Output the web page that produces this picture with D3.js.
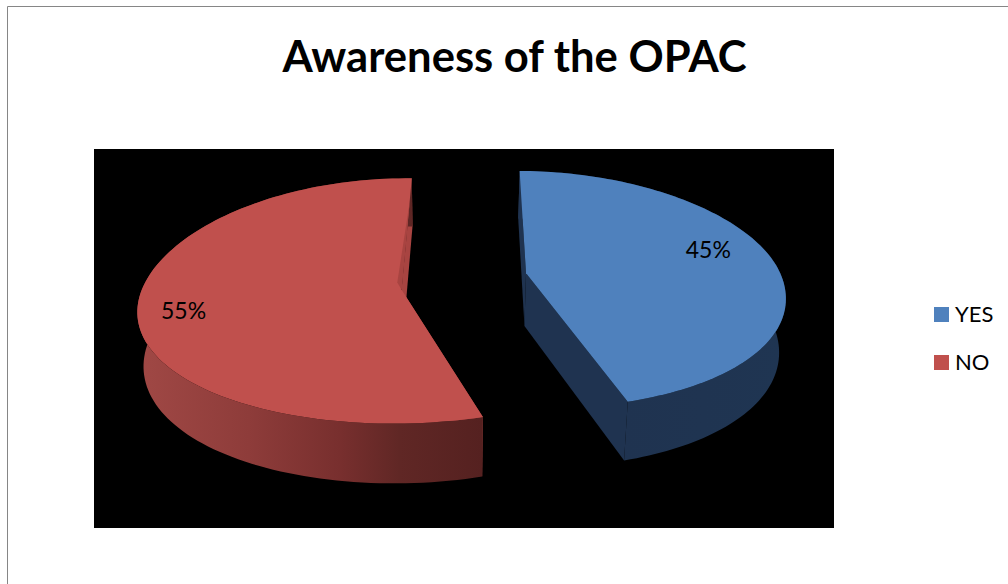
<!DOCTYPE html>
<html><head><meta charset="utf-8">
<script src="https://cdnjs.cloudflare.com/ajax/libs/d3/7.8.5/d3.min.js"></script>
<style>html,body{margin:0;padding:0;background:#fff}svg{display:block}text{font-family:Lato,"Open Sans",sans-serif;fill:#000}</style>
</head><body><svg id="c" width="1008" height="584"></svg>
<script>
const title = "Awareness of the OPAC";
const categories = ["YES", "NO"];
const values = [45, 55];
const topColors = ["#4f81bd", "#c0504d"];

const svg = d3.select("#c");
const R = Math.PI / 180;
// camera
const vx = 447, cy = 281.5, rx = 257, ry = 122, k = 0.11, kx = 0.16, depth = 53, zs = 0.98;
const worldShift = 0.068, explode = 0.252, explodeTurn = -7.5 * R, spin = 1.0 * R;
const backScale = [0.94, 1], frontScale = [1, 0.965];
const project = (u, v) => {
  const w = 1 - k * v;
  return { x: vx + rx * u / (1 - kx * v), y: cy + ry * v / w, w };
};
const lower = p => ({ x: vx + (p.x - vx) * zs, y: p.y + depth / p.w });
const line = d3.line().x(d => d.x).y(d => d.y);

const pieGen = d3.pie().sort(null).startAngle(spin).endAngle(2 * Math.PI + spin);
const arcs = pieGen(values);

svg.append("rect").attr("width", 1008).attr("height", 584).attr("fill", "#fff");
svg.append("path").attr("d", "M7.5 584V6.5H1008").attr("fill", "none").attr("stroke", "#868686");
svg.append("text").attr("x", 514.5).attr("y", 72).attr("text-anchor", "middle")
  .attr("font-size", 43.6).attr("font-weight", 700).text(title);
svg.append("rect").attr("x", 94).attr("y", 149).attr("width", 740).attr("height", 379).attr("fill", "#000");

const defs = svg.append("defs");
const gradStops = [
  [[0, "#1f3350"], [1, "#1f3552"]],
  [[0, "#a04845"], [0.32, "#8e3c3a"], [0.586, "#782f2e"], [0.76, "#602725"], [1, "#552120"]]
];
const gradRange = [[620, 785], [139, 482]];
gradStops.forEach((st, i) => {
  const g = defs.append("linearGradient").attr("id", "side" + i).attr("gradientUnits", "userSpaceOnUse")
    .attr("x1", gradRange[i][0]).attr("x2", gradRange[i][1]).attr("y1", 0).attr("y2", 0);
  st.forEach(s => g.append("stop").attr("offset", s[0]).attr("stop-color", s[1]));
});
const edgeColors = ["#1f3350", "#a84441"];

function drawSlice(a, i) {
  const mid = (a.startAngle + a.endAngle) / 2 + explodeTurn;
  const ou = worldShift + explode * Math.sin(mid), ov = -explode * Math.cos(mid);
  const at = (ang, r) => {
    const c = -Math.cos(ang);
    return project(ou + r * Math.sin(ang), ov + r * c * (c < 0 ? backScale[i] : frontScale[i]));
  };
  const angs = d3.range(0, 121).map(t => a.startAngle + (a.endAngle - a.startAngle) * t / 120);
  const rim = angs.map(x => at(x, 1));
  const apex = at(0, 0);
  const g = svg.append("g");
  // radial walls
  [a.startAngle, a.endAngle].forEach(ang => {
    const o = at(ang, 1);
    g.append("path").attr("d", line([apex, o, lower(o), lower(apex)]) + "Z").attr("fill", edgeColors[i]);
  });
  // outer wall
  g.append("path").attr("d", line(rim.concat(rim.map(lower).reverse())) + "Z").attr("fill", `url(#side${i})`);
  // top face
  g.append("path").attr("d", line([apex].concat(rim)) + "Z").attr("fill", topColors[i]);
  return { at, g };
}
const parts = arcs.map(drawSlice);

// sliver of the hidden back wall that shows over the red face
const red = parts[1], redEnd = arcs[1].endAngle;
const s1 = red.at(redEnd, 0.78), s2 = red.at(redEnd, 0.0), s3 = red.at(redEnd, 0.06);
red.g.append("path").attr("d", line([s1, s2, { x: s3.x - 5, y: s3.y }]) + "Z").attr("fill", "#a84441");

// percentage labels
const total = d3.sum(values);
const labelRadius = [0.78, 0.83], labelTurn = [-8 * R, -4 * R];
arcs.forEach((a, i) => {
  const m = (a.startAngle + a.endAngle) / 2 + labelTurn[i];
  const p = parts[i].at(m, labelRadius[i]);
  svg.append("text").attr("x", p.x).attr("y", p.y + 8).attr("text-anchor", "middle")
    .attr("font-size", 23).text(d3.format(".0%")(a.value / total));
});

// legend
const legendY = d3.scalePoint().domain(categories).range([314.5, 362.5]);
categories.forEach((c, i) => {
  svg.append("rect").attr("x", 934).attr("y", legendY(c) - 7.5).attr("width", 15).attr("height", 15).attr("fill", topColors[i]);
  svg.append("text").attr("x", 955).attr("y", legendY(c) + 7.5).attr("font-size", 22).text(c);
});
</script></body></html>
